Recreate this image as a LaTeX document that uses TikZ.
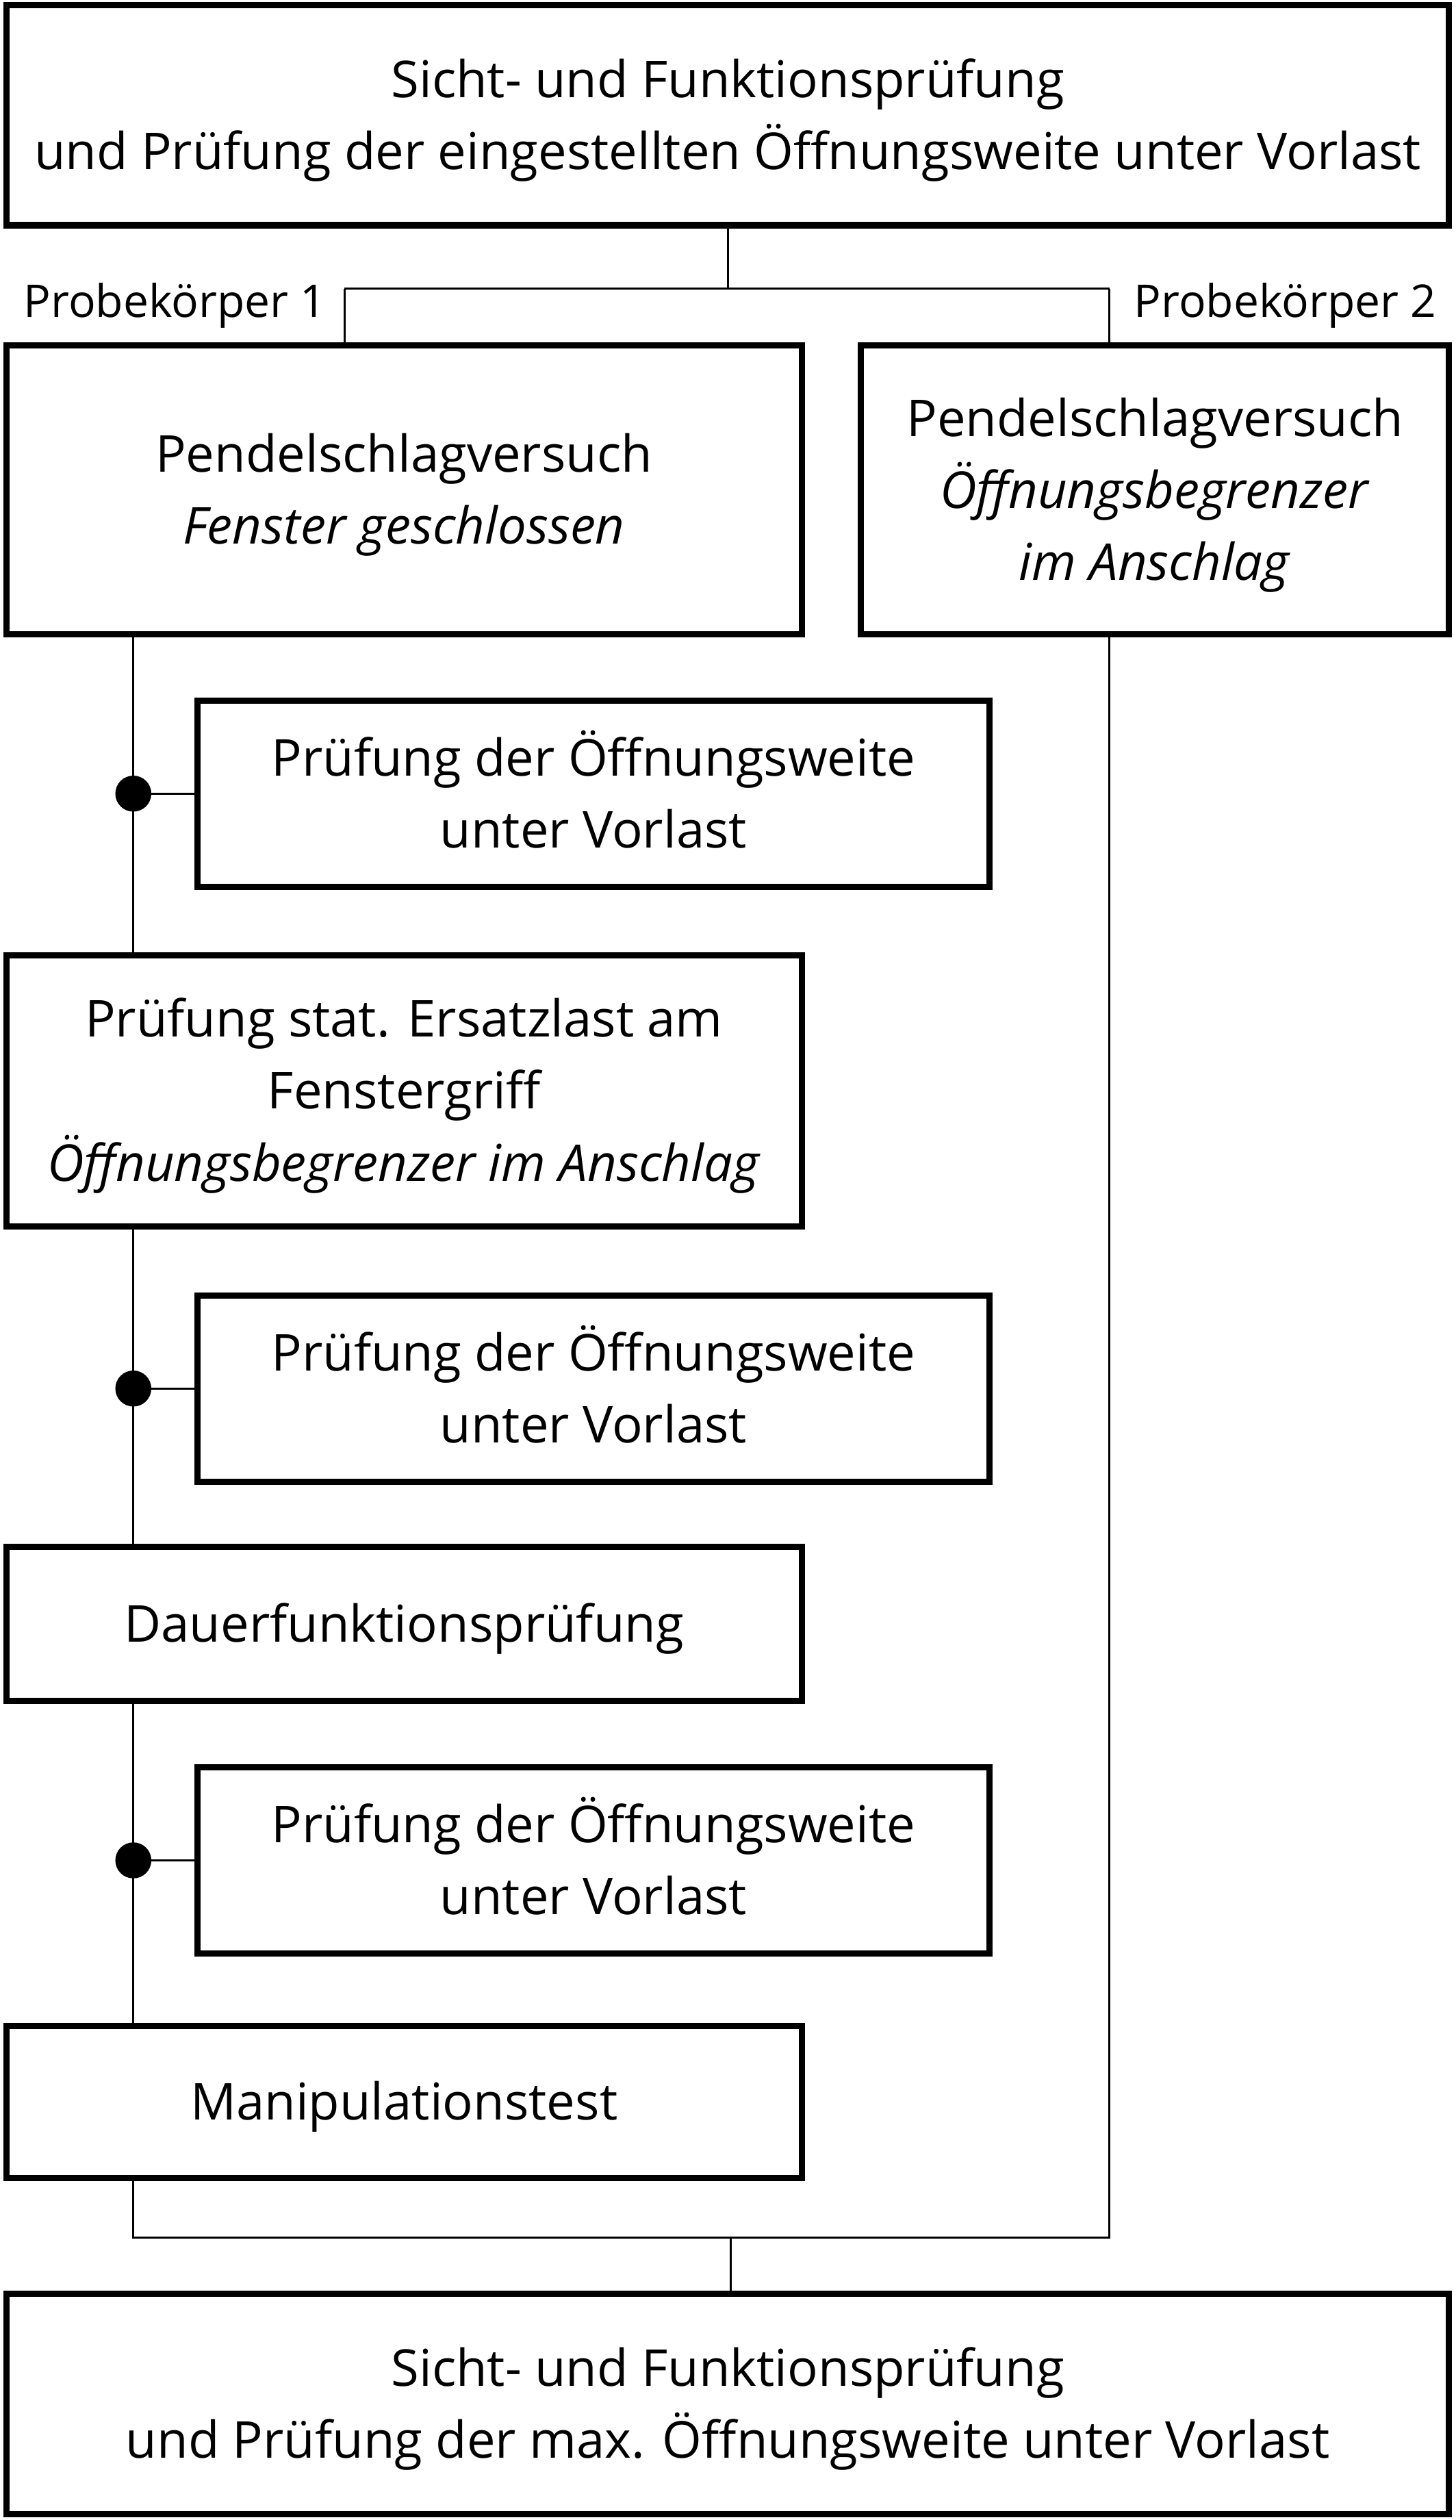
\documentclass[tikz,border=0pt]{standalone}
\usepackage{fontspec}
\setmainfont{Open Sans}
\usepackage{tikz}
\usetikzlibrary{positioning}
\usetikzlibrary{calc}

\newcommand{\zeile}{\rule{0pt}{21.5pt}}
\tikzset{
  kasten/.style={draw, line width=0.96mm, rectangle, inner sep=0pt, align=center,
    font=\fontsize{22.5}{31.9}\selectfont,
    execute at end node={\rule[-5.4pt]{0pt}{0pt}}},
  linie/.style={line width=0.32mm},
  beschr/.style={inner sep=0pt, font=\fontsize{20}{26}\selectfont}
}

\begin{document}
\begin{tikzpicture}[x=0.25mm, y=-0.25mm]
  \useasboundingbox (0,0) rectangle (906,1568.6);

  \node[kasten, minimum width=224.5mm, minimum height=34.25mm] (start) at (453,71.7)
    {\zeile Sicht- und Funktionsprüfung\\und Prüfung der eingestellten Öffnungsweite unter Vorlast};
  \node[kasten, minimum width=123.75mm, minimum height=45mm] (pend1) at (251.5,305)
    {\zeile Pendelschlagversuch\\\textit{Fenster geschlossen}};
  \node[kasten, minimum width=91.5mm, minimum height=45mm] (pend2) at (719,305)
    {\zeile Pendelschlagversuch\\\textit{Öffnungsbegrenzer}\\\textit{im Anschlag}};
  \node[kasten, minimum width=123.3mm, minimum height=29mm] (weite1) at (369.4,494)
    {\zeile Prüfung der Öffnungsweite\\unter Vorlast};
  \node[kasten, minimum width=123.75mm, minimum height=42.25mm] (ersatz) at (251.5,679)
    {\zeile Prüfung stat. Ersatzlast am\\Fenstergriff\\\textit{Öffnungsbegrenzer im Anschlag}};
  \node[kasten, minimum width=123.3mm, minimum height=29mm] (weite2) at (369.4,864.3)
    {\zeile Prüfung der Öffnungsweite\\unter Vorlast};
  \node[kasten, minimum width=123.75mm, minimum height=23.9mm] (dauer) at (251.5,1010.8)
    {\zeile Dauerfunktionsprüfung};
  \node[kasten, minimum width=123.3mm, minimum height=29mm] (weite3) at (369.4,1158)
    {\zeile Prüfung der Öffnungsweite\\unter Vorlast};
  \node[kasten, minimum width=123.75mm, minimum height=23.65mm] (manip) at (251.5,1308.3)
    {\zeile Manipulationstest};
  \node[kasten, minimum width=224.5mm, minimum height=34.3mm] (ende) at (453,1496.4)
    {\zeile Sicht- und Funktionsprüfung\\und Prüfung der max. Öffnungsweite unter Vorlast};

  \node[beschr, anchor=base west] (pk1) at (14.5,197.4) {Probekörper 1};
  \node[beschr, anchor=base east] (pk2) at (894.6,197.4) {Probekörper 2};

  % Verteilung oben
  \coordinate (ab1) at (214.4,179.7);
  \coordinate (ab2) at (690.6,179.7);
  \draw[linie] (start.south) -- (start.south |- ab1);
  \draw[linie] (ab1) -- (ab2);
  \draw[linie] (ab1) -- (pend1.north -| ab1);
  \draw[linie] (ab2) -- (pend2.north -| ab2);

  % linke Spalte
  \coordinate (sam1) at (83,1393);
  \coordinate (sam2) at (690.6,1393);
  \coordinate (mitte) at (455,1393);
  \draw[linie] (pend1.south -| sam1) -- (ersatz.north -| sam1);
  \draw[linie] (ersatz.south -| sam1) -- (dauer.north -| sam1);
  \draw[linie] (dauer.south -| sam1) -- (manip.north -| sam1);
  \draw[linie] (manip.south -| sam1) -- (sam1) -- (sam2) -- (pend2.south -| sam2);
  \draw[linie] (mitte) -- (ende.north -| mitte);

  % Pruefpunkte
  \foreach \w in {weite1,weite2,weite3}{
    \draw[linie] (\w.west) -- (\w.west -| sam1);
    \fill (\w.west -| sam1) circle[radius=2.8mm];
  }
\end{tikzpicture}
\end{document}
